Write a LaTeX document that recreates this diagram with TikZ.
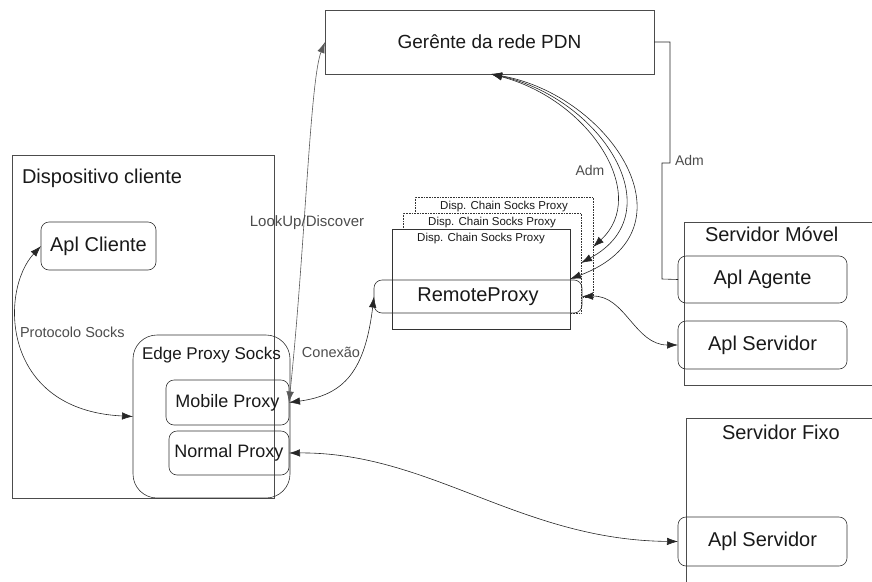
\documentclass[tikz,border=0pt]{standalone}
\usepackage{fontspec}
\setmainfont{Liberation Sans}
\usepackage{tikz}
\usetikzlibrary{arrows.meta, positioning}

\begin{document}
\begin{tikzpicture}[
            x=1pt, y=-1pt,
            >={Latex[length=11pt,width=7.5pt]},
            every node/.style={
                    inner sep=0pt,
                    outer sep=0pt,
                    text=black!90
                },
            host box/.style={
                    draw=black!70,
                    line width=0.7pt
                },
            app box/.style={
                    draw=black!80,
                    rounded corners=8pt,
                    line width=0.6pt,
                    font=\fontsize{20}{24}\selectfont
                },
            chain box/.style={
                    draw=black!80,
                    fill=white,
                    line width=0.6pt,
                    minimum width=178pt,
                    minimum height=100pt
                },
            chain label/.style={
                    font=\fontsize{11.5}{13}\selectfont
                },
            big label/.style={
                    font=\fontsize{20}{24}\selectfont
                },
            link label/.style={
                    text=black!70,
                    font=\fontsize{14.5}{17}\selectfont
                },
            connecting line/.style={
                    draw=black!85,
                    line width=0.6pt,
                    <->
                }
        ]

        \clip (0,0) rectangle (872,581);

        % PDN manager
        \node[host box, minimum width=329pt, minimum height=64pt,
            font=\fontsize{19}{23}\selectfont] (gerente) at (489.5,42) {Gerênte da rede PDN};

        % Client device
        \node[host box, minimum width=262pt, minimum height=343pt] (cliente) at (143,326.5) {};
        \node[big label, anchor=west] (cliente-label) at (22,178) {Dispositivo cliente};
        \node[app box, minimum width=115pt, minimum height=48pt] (aplcliente) at (98.5,246) {Apl Cliente};

        \node[app box, rounded corners=24pt, minimum width=157pt, minimum height=163pt] (edge) at (211.5,416.5) {};
        \node[font=\fontsize{17}{20}\selectfont] (edge-label) at (211.5,355) {Edge Proxy Socks};
        \node[app box, font=\fontsize{18}{22}\selectfont, minimum width=123pt, minimum height=45pt] (mobile) at (227.5,402.5) {Mobile Proxy};
        \node[app box, font=\fontsize{18}{22}\selectfont, minimum width=120pt, minimum height=44pt] (normal) at (229,453) {Normal Proxy};

        % Chain socks proxies
        \node[chain box, densely dotted] (chainc) at (504,247) {};
        \node[chain label, below=4pt of chainc.north] {Disp. Chain Socks Proxy};
        \node[chain box, densely dotted] (chainb) at (492,263) {};
        \node[chain label, below=4pt of chainb.north] {Disp. Chain Socks Proxy};
        \node[chain box] (chaina) at (481,279) {};
        \node[chain label, below=4pt of chaina.north] {Disp. Chain Socks Proxy};
        \node[app box, minimum width=208pt, minimum height=33pt] (remote) at (478,296.5) {RemoteProxy};

        % Mobile server
        \node[host box, minimum width=220pt, minimum height=163pt] (movel) at (794,303.5) {};
        \node[big label, anchor=west] (movel-label) at (705,234) {Servidor Móvel};
        \node[app box, minimum width=169pt, minimum height=47pt] (agente) at (762.5,279.5) {Apl Agente};
        \node[app box, minimum width=169pt, minimum height=48pt] (servm) at (762.5,345) {Apl Servidor};

        % Fixed server
        \node[host box, minimum width=220pt, minimum height=200pt] (fixo) at (796,518) {};
        \node[big label, anchor=west] (fixo-label) at (722,432) {Servidor Fixo};
        \node[app box, minimum width=169pt, minimum height=49pt] (servf) at (762.5,541.5) {Apl Servidor};

        % Connections
        \draw[connecting line] (aplcliente.west) .. controls (0,290) and (0,410) .. (edge.west);
        \node[link label, anchor=west] at (20,332) {Protocolo Socks};

        \draw[connecting line, draw=black!65] (mobile.east) .. controls (305,250) and (310,80) .. (gerente.west);
        \node[link label, font=\fontsize{15}{18}\selectfont] at (307,223) {LookUp/Discover};

        \draw[connecting line] (mobile.east) .. controls (345,395) and (365,370) .. (remote.west);
        \node[link label] at (331,352) {Conexão};

        \draw[connecting line] ([xshift=1.5pt]gerente.south) .. controls (590,100) and (650,195) .. (chainc.east);
        \draw[connecting line] ([xshift=1.5pt]gerente.south) .. controls (600,98) and (675,212) .. (chainb.east);
        \draw[connecting line] ([xshift=1.5pt]gerente.south) .. controls (610,95) and (700,230) .. (chaina.east);
        \node[link label, font=\fontsize{14}{17}\selectfont] at (590,170) {Adm};

        \draw[draw=black!85, line width=0.6pt] (gerente.east) -- (670,42) -- (670,163) -- (662,163) -- (662,279) -- (agente.west);
        \node[link label, font=\fontsize{14}{17}\selectfont, anchor=west] at (675,160) {Adm};

        \draw[connecting line] (remote.east) .. controls (625,295) and (635,345) .. (servm.west);
        \draw[connecting line] (normal.east) .. controls (430,452) and (520,540) .. (servf.west);

    \end{tikzpicture}
\end{document}
